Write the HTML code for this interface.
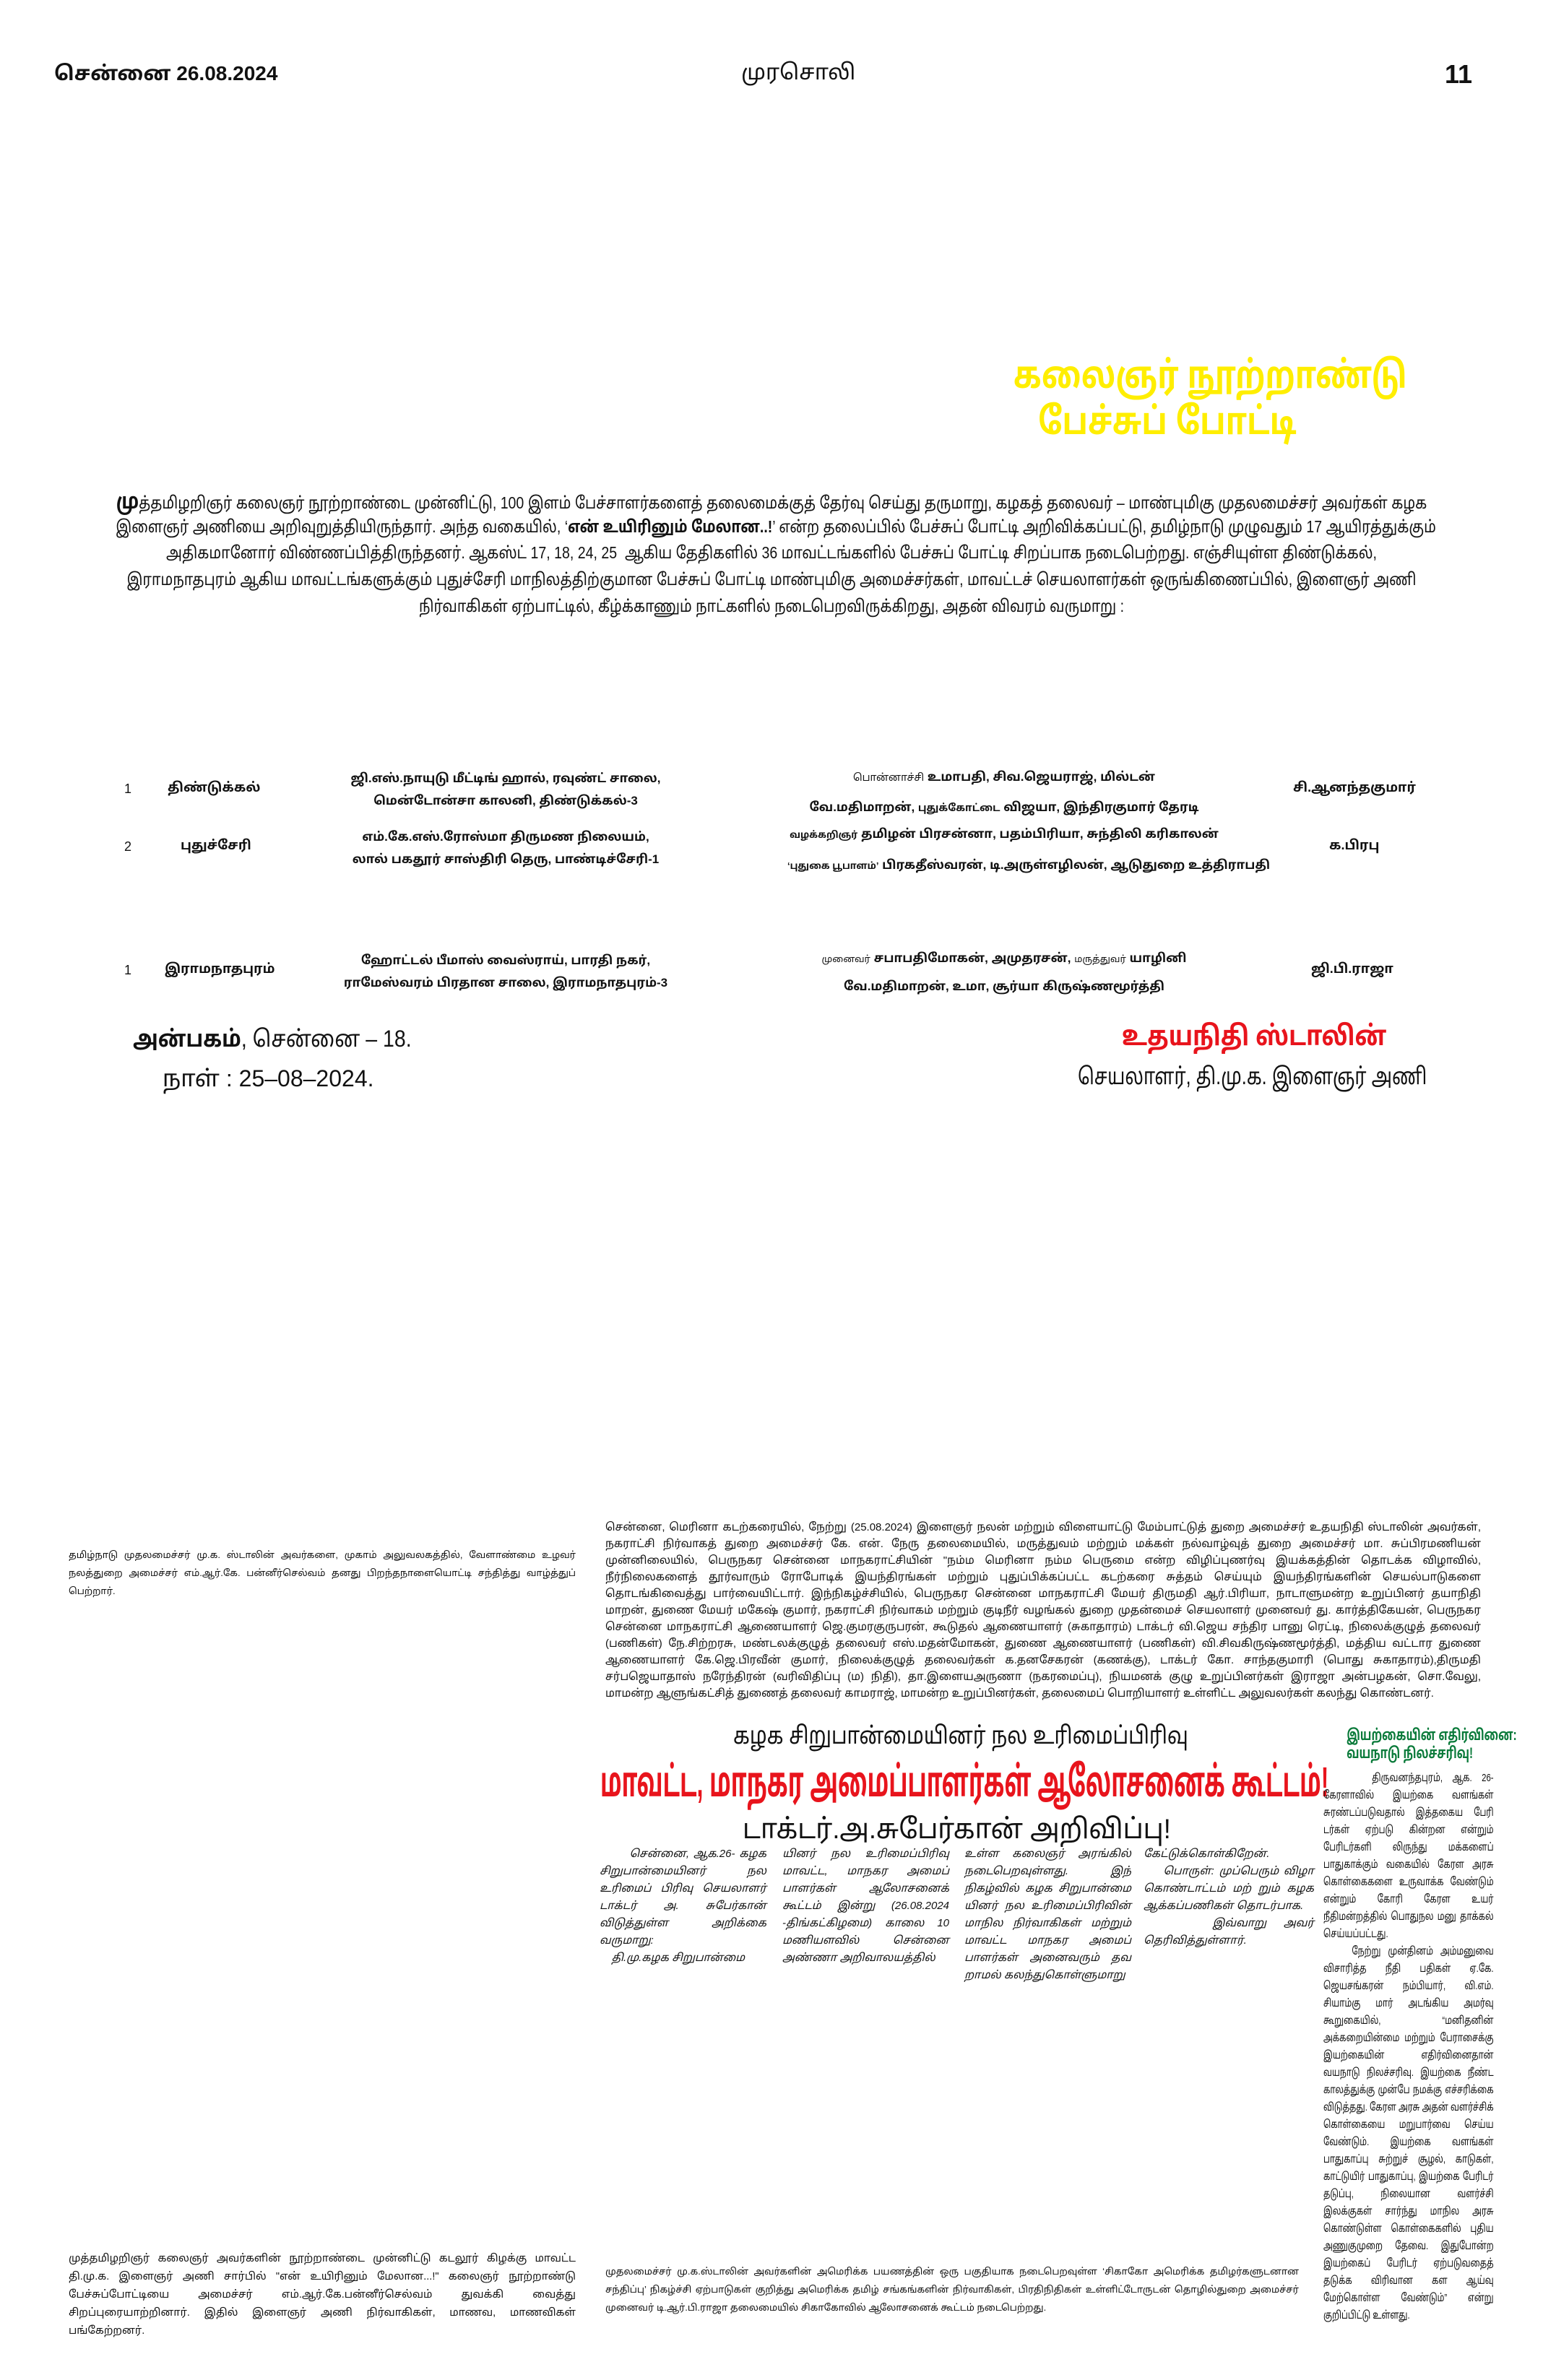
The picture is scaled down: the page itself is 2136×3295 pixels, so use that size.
<!DOCTYPE html>
<html><head><meta charset="utf-8">
<style>
html,body{margin:0;padding:0;background:#fff;}
body{width:2136px;height:3295px;position:relative;overflow:hidden;font-family:"Liberation Sans","Noto Sans Tamil","Lohit Tamil",sans-serif;color:#111;}
.a{position:absolute;white-space:nowrap;}
.p{position:absolute;}
.c{text-align:center;}
.j{text-align:justify;}
.tb{font-size:17px;font-weight:bold;line-height:31px;text-align:center;white-space:nowrap;}
.col{position:absolute;font-size:15px;line-height:24px;text-align:justify;font-style:italic;}
.sx{transform-origin:0 0;}
.pl{position:absolute;left:0;width:2136px;text-align:center;white-space:nowrap;font-size:23px;transform:scaleX(0.85);transform-origin:50% 0;}
</style></head><body>

<div class="a" style="left:75px;top:86px;font-size:28px;font-weight:bold;">சென்னை 26.08.2024</div>
<div class="a" style="left:1026px;top:84px;font-size:30px;">முரசொலி</div>
<div class="a" style="left:2000px;top:82px;font-size:36px;font-weight:bold;">11</div>

<div class="a c" style="left:1356px;top:488px;width:520px;font-size:52px;line-height:64px;font-weight:bold;color:#ffee00;">
<div style="transform:scaleX(0.82);transform-origin:50% 0;">கலைஞர் நூற்றாண்டு</div>
<div style="transform:scaleX(0.82);transform-origin:50% 0;">பேச்சுப் போட்டி</div>
</div>

<div class="pl" style="top:678px;"><b style="font-size:30px">மு</b>த்தமிழறிஞர் கலைஞர் நூற்றாண்டை முன்னிட்டு, 100 இளம் பேச்சாளர்களைத் தலைமைக்குத் தேர்வு செய்து தருமாறு, கழகத் தலைவர் – மாண்புமிகு முதலமைச்சர் அவர்கள் கழக</div>
<div class="pl" style="top:716px;">இளைஞர் அணியை அறிவுறுத்தியிருந்தார். அந்த வகையில், ‘<b>என் உயிரினும் மேலான..!</b>’ என்ற தலைப்பில் பேச்சுப் போட்டி அறிவிக்கப்பட்டு, தமிழ்நாடு முழுவதும் 17 ஆயிரத்துக்கும்</div>
<div class="pl" style="top:752px;">அதிகமானோர் விண்ணப்பித்திருந்தனர். ஆகஸ்ட் 17, 18, 24, 25 &nbsp;ஆகிய தேதிகளில் 36 மாவட்டங்களில் பேச்சுப் போட்டி சிறப்பாக நடைபெற்றது. எஞ்சியுள்ள திண்டுக்கல்,</div>
<div class="pl" style="top:789px;">இராமநாதபுரம் ஆகிய மாவட்டங்களுக்கும் புதுச்சேரி மாநிலத்திற்குமான பேச்சுப் போட்டி மாண்புமிகு அமைச்சர்கள், மாவட்டச் செயலாளர்கள் ஒருங்கிணைப்பில், இளைஞர் அணி</div>
<div class="pl" style="top:826px;">நிர்வாகிகள் ஏற்பாட்டில், கீழ்க்காணும் நாட்களில் நடைபெறவிருக்கிறது, அதன் விவரம் வருமாறு :</div>

<!-- table rows -->
<div class="a" style="left:172px;top:1082px;font-size:18px;">1</div>
<div class="a" style="left:232px;top:1080px;font-size:18px;font-weight:bold;">திண்டுக்கல்</div>
<div class="p tb" style="left:460px;top:1062px;width:480px;">ஜி.எஸ்.நாயுடு மீட்டிங் ஹால், ரவுண்ட் சாலை,<br>மென்டோன்சா காலனி, திண்டுக்கல்-3</div>
<div class="p tb" style="left:1090px;top:1055px;width:600px;line-height:42px;"><span style="font-weight:normal;font-size:14px">பொன்னாச்சி</span> உமாபதி, சிவ.ஜெயராஜ், மில்டன்<br>வே.மதிமாறன், <span style="font-size:14px">புதுக்கோட்டை</span> விஜயா, இந்திரகுமார் தேரடி</div>
<div class="a" style="left:1790px;top:1080px;font-size:18px;font-weight:bold;">சி.ஆனந்தகுமார்</div>

<div class="a" style="left:172px;top:1162px;font-size:18px;">2</div>
<div class="a" style="left:250px;top:1160px;font-size:18px;font-weight:bold;">புதுச்சேரி</div>
<div class="p tb" style="left:460px;top:1143px;width:480px;">எம்.கே.எஸ்.ரோஸ்மா திருமண நிலையம்,<br>லால் பகதூர் சாஸ்திரி தெரு, பாண்டிச்சேரி-1</div>
<div class="p tb" style="left:1090px;top:1134px;width:600px;line-height:42px;"><span style="font-size:13px">வழக்கறிஞர்</span> தமிழன் பிரசன்னா, பதம்பிரியா, சுந்திலி கரிகாலன்<br><span style="font-size:13px">‘புதுகை பூபாளம்’</span> பிரகதீஸ்வரன், டி.அருள்எழிலன், ஆடுதுறை உத்திராபதி</div>
<div class="a" style="left:1840px;top:1160px;font-size:18px;font-weight:bold;">க.பிரபு</div>

<div class="a" style="left:172px;top:1333px;font-size:18px;">1</div>
<div class="a" style="left:228px;top:1331px;font-size:18px;font-weight:bold;">இராமநாதபுரம்</div>
<div class="p tb" style="left:460px;top:1314px;width:480px;">ஹோட்டல் பீமாஸ் வைஸ்ராய், பாரதி நகர்,<br>ராமேஸ்வரம் பிரதான சாலை, இராமநாதபுரம்-3</div>
<div class="p tb" style="left:1090px;top:1308px;width:600px;line-height:38px;"><span style="font-weight:normal;font-size:13px">முனைவர்</span> சபாபதிமோகன், அமுதரசன், <span style="font-weight:normal;font-size:13px">மருத்துவர்</span> யாழினி<br>வே.மதிமாறன், உமா, சூர்யா கிருஷ்ணமூர்த்தி</div>
<div class="a" style="left:1815px;top:1331px;font-size:18px;font-weight:bold;">ஜி.பி.ராஜா</div>

<div class="a sx" style="left:184px;top:1420px;font-size:32px;transform:scaleX(0.89);"><b>அன்பகம்</b>, சென்னை – 18.</div>
<div class="a" style="left:225px;top:1475px;font-size:32px;">நாள் : 25–08–2024.</div>
<div class="a sx" style="left:1553px;top:1414px;font-size:38px;font-weight:bold;color:#e8141c;transform:scaleX(0.85);">உதயநிதி ஸ்டாலின்</div>
<div class="a sx" style="left:1492px;top:1472px;font-size:32px;transform:scaleX(0.79);">செயலாளர், தி.மு.க. இளைஞர் அணி</div>

<!-- bottom -->
<div class="p j" style="left:95px;top:2140px;width:702px;font-size:13px;line-height:25px;">தமிழ்நாடு முதலமைச்சர் மு.க. ஸ்டாலின் அவர்களை, முகாம் அலுவலகத்தில், வேளாண்மை உழவர் நலத்துறை அமைச்சர் எம்.ஆர்.கே. பன்னீர்செல்வம் தனது பிறந்தநாளையொட்டி சந்தித்து வாழ்த்துப் பெற்றார்.</div>

<div class="p j" style="left:838px;top:2103px;width:1212px;font-size:15px;line-height:23px;">சென்னை, மெரினா கடற்கரையில், நேற்று (25.08.2024) இளைஞர் நலன் மற்றும் விளையாட்டு மேம்பாட்டுத் துறை அமைச்சர் உதயநிதி ஸ்டாலின் அவர்கள், நகராட்சி நிர்வாகத் துறை அமைச்சர் கே. என். நேரு தலைமையில், மருத்துவம் மற்றும் மக்கள் நல்வாழ்வுத் துறை அமைச்சர் மா. சுப்பிரமணியன் முன்னிலையில், பெருநகர சென்னை மாநகராட்சியின் "நம்ம மெரினா நம்ம பெருமை என்ற விழிப்புணர்வு இயக்கத்தின் தொடக்க விழாவில், நீர்நிலைகளைத் தூர்வாரும் ரோபோடிக் இயந்திரங்கள் மற்றும் புதுப்பிக்கப்பட்ட கடற்கரை சுத்தம் செய்யும் இயந்திரங்களின் செயல்பாடுகளை தொடங்கிவைத்து பார்வையிட்டார். இந்நிகழ்ச்சியில், பெருநகர சென்னை மாநகராட்சி மேயர் திருமதி ஆர்.பிரியா, நாடாளுமன்ற உறுப்பினர் தயாநிதி மாறன், துணை மேயர் மகேஷ் குமார், நகராட்சி நிர்வாகம் மற்றும் குடிநீர் வழங்கல் துறை முதன்மைச் செயலாளர் முனைவர் து. கார்த்திகேயன், பெருநகர சென்னை மாநகராட்சி ஆணையாளர் ஜெ.குமரகுருபரன், கூடுதல் ஆணையாளர் (சுகாதாரம்) டாக்டர் வி.ஜெய சந்திர பானு ரெட்டி, நிலைக்குழுத் தலைவர் (பணிகள்) நே.சிற்றரசு, மண்டலக்குழுத் தலைவர் எஸ்.மதன்மோகன், துணை ஆணையாளர் (பணிகள்) வி.சிவகிருஷ்ணமூர்த்தி, மத்திய வட்டார துணை ஆணையாளர் கே.ஜெ.பிரவீன் குமார், நிலைக்குழுத் தலைவர்கள் க.தனசேகரன் (கணக்கு), டாக்டர் கோ. சாந்தகுமாரி (பொது சுகாதாரம்),திருமதி சர்பஜெயாதாஸ் நரேந்திரன் (வரிவிதிப்பு (ம) நிதி), தா.இளையஅருணா (நகரமைப்பு), நியமனக் குழு உறுப்பினர்கள் இராஜா அன்பழகன், சொ.வேலு, மாமன்ற ஆளுங்கட்சித் துணைத் தலைவர் காமராஜ், மாமன்ற உறுப்பினர்கள், தலைமைப் பொறியாளர் உள்ளிட்ட அலுவலர்கள் கலந்து கொண்டனர்.</div>

<div class="a sx" style="left:1015px;top:2384px;font-size:33px;transform:scaleX(0.84);">கழக சிறுபான்மையினர் நல உரிமைப்பிரிவு</div>
<div class="a sx" style="left:831px;top:2434px;font-size:58px;font-weight:bold;color:#e8141c;transform:scaleX(0.545);">மாவட்ட, மாநகர அமைப்பாளர்கள் ஆலோசனைக் கூட்டம்!</div>
<div class="a sx" style="left:1028px;top:2512px;font-size:38px;transform:scaleX(0.95);">டாக்டர்.அ.சுபேர்கான் அறிவிப்பு!</div>

<div class="col" style="left:830px;top:2555px;width:231px;">&nbsp;&nbsp;&nbsp;&nbsp;&nbsp;&nbsp;&nbsp;சென்னை, ஆக.26- கழக சிறுபான்மையினர் நல உரிமைப் பிரிவு செயலாளர் டாக்டர் அ. சுபேர்கான் விடுத்துள்ள அறிக்கை வருமாறு:<br>&nbsp;&nbsp;&nbsp;&nbsp;தி.மு.கழக சிறுபான்மை</div>
<div class="col" style="left:1083px;top:2555px;width:231px;">யினர் நல உரிமைப்பிரிவு மாவட்ட, மாநகர அமைப் பாளர்கள் ஆலோசனைக் கூட்டம் இன்று (26.08.2024 -திங்கட்கிழமை) காலை 10 மணியளவில் சென்னை அண்ணா அறிவாலயத்தில்</div>
<div class="col" style="left:1335px;top:2555px;width:231px;">உள்ள கலைஞர் அரங்கில் நடைபெறவுள்ளது. இந் நிகழ்வில் கழக சிறுபான்மை யினர் நல உரிமைப்பிரிவின் மாநில நிர்வாகிகள் மற்றும் மாவட்ட மாநகர அமைப் பாளர்கள் அனைவரும் தவ றாமல் கலந்துகொள்ளுமாறு</div>
<div class="col" style="left:1583px;top:2555px;width:236px;">கேட்டுக்கொள்கிறேன்.<br>&nbsp;&nbsp;&nbsp;&nbsp;பொருள்: முப்பெரும் விழா கொண்டாட்டம் மற் றும் கழக ஆக்கப்பணிகள் தொடர்பாக.<br>&nbsp;&nbsp;&nbsp;&nbsp;இவ்வாறு அவர் தெரிவித்துள்ளார்.</div>

<div class="a c" style="left:1832px;top:2390px;width:230px;font-size:21px;line-height:25px;font-weight:bold;color:#0a7a3a;">
<div style="transform:scaleX(0.72);transform-origin:50% 0;">இயற்கையின் எதிர்வினை:</div>
<div style="transform:scaleX(0.72);transform-origin:50% 0;">வயநாடு நிலச்சரிவு!</div>
</div>
<div class="col sx" style="left:1832px;top:2450px;width:310px;font-style:normal;transform:scaleX(0.76);">&nbsp;&nbsp;&nbsp;&nbsp;&nbsp;திருவனந்தபுரம், ஆக. 26- கேரளாவில் இயற்கை வளங்கள் சுரண்டப்படுவதால் இத்தகைய பேரி டர்கள் ஏற்படு கின்றன என்றும் பேரிடர்களி லிருந்து மக்களைப் பாதுகாக்கும் வகையில் கேரள அரசு கொள்கைகளை உருவாக்க வேண்டும் என்றும் கோரி கேரள உயர் நீதிமன்றத்தில் பொதுநல மனு தாக்கல் செய்யப்பட்டது.<br>&nbsp;&nbsp;&nbsp;&nbsp;நேற்று முன்தினம் அம்மனுவை விசாரித்த நீதி பதிகள் ஏ.கே. ஜெயசங்கரன் நம்பியார், வி.எம். சியாம்கு மார் அடங்கிய அமர்வு கூறுகையில், “மனிதனின் அக்கறையின்மை மற்றும் பேராசைக்கு இயற்கையின் எதிர்வினைதான் வயநாடு நிலச்சரிவு. இயற்கை நீண்ட காலத்துக்கு முன்பே நமக்கு எச்சரிக்கை விடுத்தது. கேரள அரசு அதன் வளர்ச்சிக் கொள்கையை மறுபார்வை செய்ய வேண்டும். இயற்கை வளங்கள் பாதுகாப்பு சுற்றுச் சூழல், காடுகள், காட்டுயிர் பாதுகாப்பு, இயற்கை பேரிடர் தடுப்பு, நிலையான வளர்ச்சி இலக்குகள் சார்ந்து மாநில அரசு கொண்டுள்ள கொள்கைகளில் புதிய அணுகுமுறை தேவை. இதுபோன்ற இயற்கைப் பேரிடர் ஏற்படுவதைத் தடுக்க விரிவான கள ஆய்வு மேற்கொள்ள வேண்டும்” என்று குறிப்பிட்டு உள்ளது.</div>

<div class="p j" style="left:95px;top:3115px;width:702px;font-size:14.5px;line-height:25px;">முத்தமிழறிஞர் கலைஞர் அவர்களின் நூற்றாண்டை முன்னிட்டு கடலூர் கிழக்கு மாவட்ட தி.மு.க. இளைஞர் அணி சார்பில் "என் உயிரினும் மேலான...!" கலைஞர் நூற்றாண்டு பேச்சுப்போட்டியை அமைச்சர் எம்.ஆர்.கே.பன்னீர்செல்வம் துவக்கி வைத்து சிறப்புரையாற்றினார். இதில் இளைஞர் அணி நிர்வாகிகள், மாணவ, மாணவிகள் பங்கேற்றனர்.</div>
<div class="p j" style="left:838px;top:3132px;width:960px;font-size:13px;line-height:25px;">முதலமைச்சர் மு.க.ஸ்டாலின் அவர்களின் அமெரிக்க பயணத்தின் ஒரு பகுதியாக நடைபெறவுள்ள ‘சிகாகோ அமெரிக்க தமிழர்களுடனான சந்திப்பு’ நிகழ்ச்சி ஏற்பாடுகள் குறித்து அமெரிக்க தமிழ் சங்கங்களின் நிர்வாகிகள், பிரதிநிதிகள் உள்ளிட்டோருடன் தொழில்துறை அமைச்சர் முனைவர் டி.ஆர்.பி.ராஜா தலைமையில் சிகாகோவில் ஆலோசனைக் கூட்டம் நடைபெற்றது.</div>

</body></html>
